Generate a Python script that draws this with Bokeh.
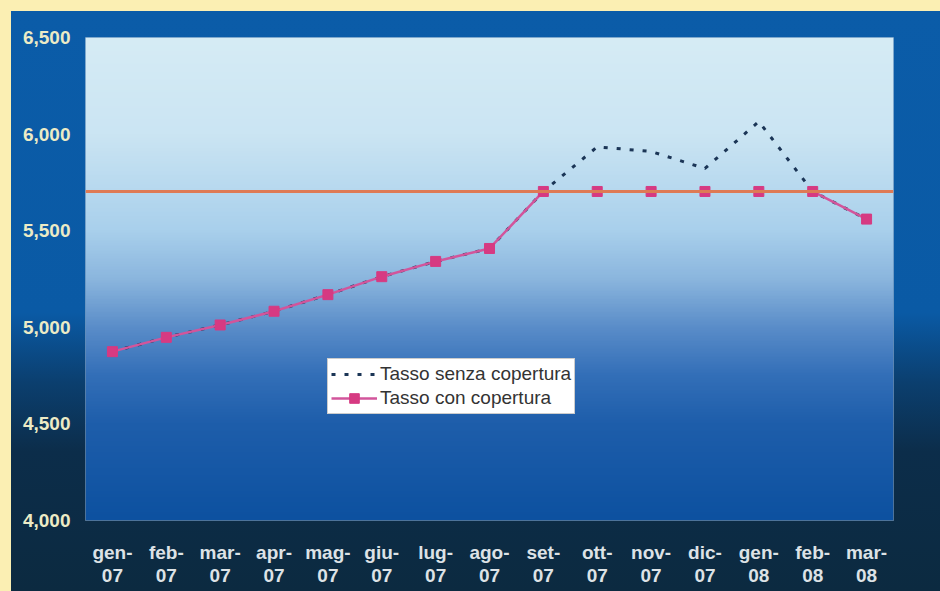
import numpy as np
from bokeh.plotting import figure
from bokeh.models import (Range1d, FixedTicker, NumeralTickFormatter, Span, Legend,
                          LegendItem, GlobalInlineStyleSheet)
from bokeh.embed import file_html
from bokeh.resources import INLINE

# ---- data ----
months = ["gen-07", "feb-07", "mar-07", "apr-07", "mag-07", "giu-07", "lug-07", "ago-07",
          "set-07", "ott-07", "nov-07", "dic-07", "gen-08", "feb-08", "mar-08"]
tasso_senza = [4874, 4948, 5012, 5083, 5169, 5262, 5341, 5408,
               5703, 5934, 5910, 5822, 6065, 5703, 5560]
tasso_con = [4874, 4948, 5012, 5083, 5169, 5262, 5341, 5408,
             5703, 5703, 5703, 5703, 5703, 5703, 5560]
cap_value = 5703
y_ticks = [4000, 4500, 5000, 5500, 6000, 6500]
tick_labels = [m.replace("-", "-\n") for m in months]

xs = list(range(len(months)))

css = GlobalInlineStyleSheet(css="""
html { height: 100%;
  background:
    linear-gradient(to bottom, #0b5ca8 0%, #0a5aa5 52%, #0b3f6f 64%, #0c2d4a 76%, #0c2a40 100%)
      11px 11px / calc(100% - 11px) calc(100% - 11px) no-repeat,
    #fbefb3; }
""")

p = figure(width=940, height=591, output_backend="svg", toolbar_location=None,
           x_range=Range1d(-0.5, len(months) - 0.5), y_range=Range1d(y_ticks[0], y_ticks[-1]),
           min_border_left=85, min_border_right=47, min_border_top=37, min_border_bottom=71,
           background_fill_color=None, border_fill_color=None)
p.stylesheets = [css]

# plot-area gradient (style only)
stops_pos = [0.0, 0.2, 0.4, 0.5, 0.6, 0.7, 0.8, 1.0]
stops_col = ["#d6ecf5", "#cbe5f3", "#a9d0ec", "#8bb6de", "#5a8dc9", "#336fb8", "#1e5eab", "#0d51a0"]
def hex2rgb(h):
    return [int(h[i:i + 2], 16) for i in (1, 3, 5)]
rgb = np.array([hex2rgb(c) for c in stops_col], dtype=float)
N = 300
t = 1 - (np.arange(N) + 0.5) / N  # row 0 = bottom
img = np.zeros((N, 1), dtype=np.uint32)
view = img.view(dtype=np.uint8).reshape((N, 1, 4))
for k in range(3):
    view[:, 0, k] = np.interp(t, stops_pos, rgb[:, k]).astype(np.uint8)
view[:, 0, 3] = 255
p.image_rgba(image=[img], x=-0.5, y=y_ticks[0], dw=len(months), dh=y_ticks[-1] - y_ticks[0])

p.outline_line_color = "#9fb8d0"
p.outline_line_alpha = 0.6

p.xgrid.visible = False
p.ygrid.ticker = FixedTicker(ticks=y_ticks[1:-1])
p.ygrid.grid_line_color = "#7f9cb2"
p.ygrid.grid_line_alpha = 0.8
p.ygrid.grid_line_width = 1

cap = Span(location=cap_value, dimension="width", line_color="#de7a55", line_width=3)
p.add_layout(cap)

r_senza = p.line(xs, tasso_senza, line_color="#1b3556", line_width=3, line_dash="4 9")
r_con = p.line(xs, tasso_con, line_color="#d2559b", line_width=2.5)
r_con_m = p.scatter(xs, tasso_con, marker="square", size=10, fill_color="#d63a82",
                    line_color="#d63a82")

# axes
p.yaxis.ticker = FixedTicker(ticks=y_ticks)
p.yaxis.formatter = NumeralTickFormatter(format="0,0")
p.xaxis.ticker = FixedTicker(ticks=xs)
p.xaxis.major_label_overrides = {i: lab for i, lab in zip(xs, tick_labels)}
for ax in (p.xaxis[0], p.yaxis[0]):
    ax.axis_line_color = None
    ax.major_tick_line_color = None
    ax.minor_tick_line_color = None
    ax.major_tick_out = 0
    ax.major_tick_in = 0
    ax.major_label_text_font = "Liberation Sans"
    ax.major_label_text_font_style = "bold"
    ax.major_label_text_font_size = "19px"
p.yaxis.major_label_text_color = "#ecebc6"
p.yaxis.major_label_standoff = 15
p.xaxis.major_label_text_color = "#dde2e6"
p.xaxis.major_label_standoff = 21
p.xaxis.major_label_text_line_height = 1.1

legend = Legend(items=[LegendItem(label="Tasso senza copertura", renderers=[r_senza]),
                       LegendItem(label="Tasso con copertura", renderers=[r_con, r_con_m])],
                location=(242, 106))
legend.background_fill_color = "white"
legend.background_fill_alpha = 1
legend.border_line_color = "#9a9a9a"
legend.border_line_width = 1
legend.label_text_font = "Liberation Sans"
legend.label_text_font_size = "19px"
legend.label_text_color = "#333333"
legend.glyph_width = 46
legend.glyph_height = 24
legend.label_height = 24
legend.padding = 3
legend.spacing = 0
legend.margin = 0
legend.label_standoff = 3
p.add_layout(legend, "center")

open("out.html", "w").write(file_html(p, INLINE))
